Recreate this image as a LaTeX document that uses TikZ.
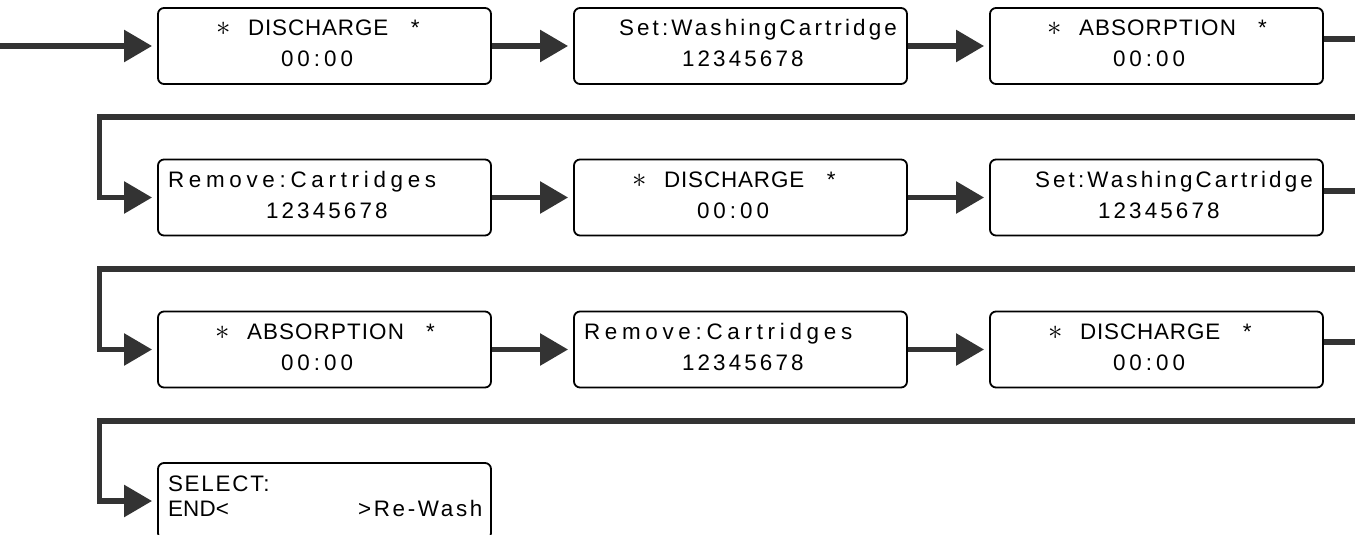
\documentclass[tikz,border=0pt]{standalone}
\usepackage{fontspec}
\usepackage{xcolor}
\usetikzlibrary{arrows.meta,positioning}
\newfontfamily\lcdfont{Liberation Sans}
\definecolor{wire}{HTML}{333333}
\newdimen\pxu \pxu=0.5pt
% one piece of display text: offset from the left edge, tracking, text
\newcommand{\lcdat}[3]{\makebox[0pt][l]{\hspace*{#1\pxu}\addfontfeature{LetterSpace=#2}#3}}
\newcommand{\bigast}{{\fontsize{14pt}{14pt}\selectfont$\ast$}}
\tikzset{
  lcdbox/.style={draw=black,line width=0.9pt,rounded corners=3pt,
                 minimum width=166.5pt,minimum height=38pt,text width=166.5pt,
                 inner sep=0pt,align=left,text height=8pt,text depth=18pt,
                 font=\lcdfont\fontsize{11.2pt}{15.5pt}\selectfont},
  selbox/.style={lcdbox,font=\lcdfont\fontsize{11.2pt}{12.5pt}\selectfont},
  flowarr/.style={-{Triangle[length=14pt,width=15.5pt]},line width=2.8pt,
                  draw=wire,shorten >=2.5pt},
  flowline/.style={line width=2.8pt,draw=wire}
}
\begin{document}
\begin{tikzpicture}[x=0.5pt,y=-0.5pt]
  \useasboundingbox (0,0) rectangle (1355,535);
  % row 1
  \node[lcdbox] (dis1) at (324.5,46) {\lcdat{58}{0}{\bigast}\lcdat{90}{4}{DISCHARGE}\lcdat{253}{0}{*}\\\lcdat{123}{18}{00:00}};
  \node[lcdbox] (wash1) at (740.5,46) {\lcdat{45}{14}{Set:WashingCartridge}\\\lcdat{108}{14}{12345678}};
  \node[lcdbox] (abs1) at (1156.5,46) {\lcdat{57}{0}{\bigast}\lcdat{89}{5}{ABSORPTION}\lcdat{268}{0}{*}\\\lcdat{123}{18}{00:00}};
  % row 2
  \node[lcdbox] (rem1) at (324.5,197.5) {\lcdat{10}{21}{Remove:Cartridges}\\\lcdat{108}{14}{12345678}};
  \node[lcdbox] (dis2) at (740.5,197.5) {\lcdat{58}{0}{\bigast}\lcdat{90}{4}{DISCHARGE}\lcdat{253}{0}{*}\\\lcdat{123}{18}{00:00}};
  \node[lcdbox] (wash2) at (1156.5,197.5) {\lcdat{45}{14}{Set:WashingCartridge}\\\lcdat{108}{14}{12345678}};
  % row 3
  \node[lcdbox] (abs2) at (324.5,349.5) {\lcdat{57}{0}{\bigast}\lcdat{89}{5}{ABSORPTION}\lcdat{268}{0}{*}\\\lcdat{123}{18}{00:00}};
  \node[lcdbox] (rem2) at (740.5,349.5) {\lcdat{10}{21}{Remove:Cartridges}\\\lcdat{108}{14}{12345678}};
  \node[lcdbox] (dis3) at (1156.5,349.5) {\lcdat{58}{0}{\bigast}\lcdat{90}{4}{DISCHARGE}\lcdat{253}{0}{*}\\\lcdat{123}{18}{00:00}};
  % row 4
  \node[selbox] (sel) at (324.5,501) {\lcdat{10}{8}{SELECT:}\\\lcdat{200}{12}{>Re-Wash}\lcdat{10}{1}{END<}};

  \coordinate (in) at (0,46);
  \coordinate (out1) at (1355,39);
  \coordinate (back1) at (1355,117);
  \coordinate (turn1) at (99.5,117);
  \coordinate (out2) at (1355,191);
  \coordinate (back2) at (1355,269);
  \coordinate (turn2) at (99.5,269);
  \coordinate (out3) at (1355,342);
  \coordinate (back3) at (1355,421);
  \coordinate (turn3) at (99.5,421);

  \draw[flowarr] (in) -- (dis1);
  \draw[flowarr] (dis1) -- (wash1);
  \draw[flowarr] (wash1) -- (abs1);
  \draw[flowline] (out1 -| abs1.east) -- (out1);
  \draw[flowarr] (back1) -- (turn1) |- (rem1);
  \draw[flowarr] (rem1) -- (dis2);
  \draw[flowarr] (dis2) -- (wash2);
  \draw[flowline] (out2 -| wash2.east) -- (out2);
  \draw[flowarr] (back2) -- (turn2) |- (abs2);
  \draw[flowarr] (abs2) -- (rem2);
  \draw[flowarr] (rem2) -- (dis3);
  \draw[flowline] (out3 -| dis3.east) -- (out3);
  \draw[flowarr] (back3) -- (turn3) |- (sel);
\end{tikzpicture}
\end{document}
